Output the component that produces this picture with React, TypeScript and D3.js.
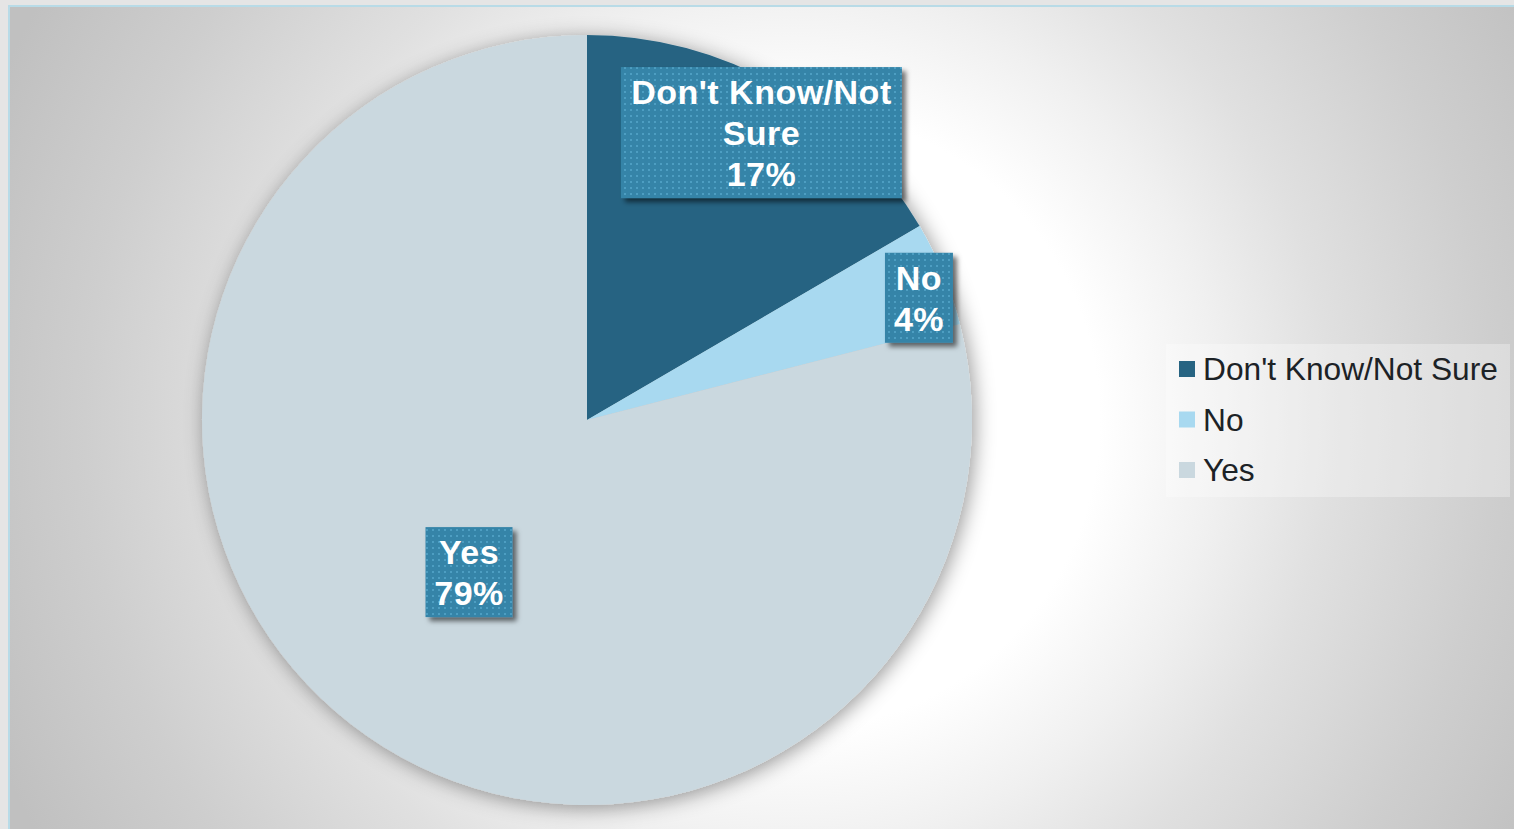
import React from "react";
import * as d3 from "d3";

const categories = ["Don't Know/Not Sure", "No", "Yes"];
const values = [16.6, 4.4, 79.0];
const percentLabels = ["17%", "4%", "79%"];
const labelLines = [["Don't Know/Not", "Sure"], ["No"], ["Yes"]];
const colors = ["#276482", "#a8d9f0", "#cad8df"];

// layout constants
const W = 1514;
const H = 829;
const CX = 587;
const CY = 420;
const R = 385;
const labelRadius = [0.873, 0.918, 0.5];
const labelNudge = [[7, 4], [5, 12], [0, 0]];
const boxWidths = [281, 68, 87];
const LINE_H = 41;
const FONT = "'Liberation Sans', Arial, Helvetica, sans-serif";

export default function App() {
  const pie = d3.pie<number>().sort(null).value((d) => d).startAngle(0).endAngle(2 * Math.PI);
  const arcs = pie(values);
  const arc = d3.arc<d3.PieArcDatum<number>>().innerRadius(0).outerRadius(R);

  return (
    <svg width={W} height={H} style={{ position: "absolute", left: 0, top: 0, display: "block" }}>
      <defs>
        <radialGradient id="bg" gradientUnits="userSpaceOnUse" cx={790} cy={420} r={860}>
          <stop offset="0" stopColor="#ffffff" />
          <stop offset="0.36" stopColor="#ffffff" />
          <stop offset="0.5" stopColor="#f0f0f0" />
          <stop offset="0.63" stopColor="#e0e0e0" />
          <stop offset="0.82" stopColor="#cecece" />
          <stop offset="1" stopColor="#c0c0c0" />
        </radialGradient>
        <pattern id="dots" width={6} height={6} patternUnits="userSpaceOnUse">
          <rect width={6} height={6} fill="#3584a8" />
          <rect x={1} y={1} width={2} height={2} fill="#4d9ec2" />
        </pattern>
        <filter id="pieShadow" x="-10%" y="-10%" width="125%" height="125%">
          <feDropShadow dx={3} dy={3} stdDeviation={10} floodColor="#000" floodOpacity={0.4} />
        </filter>
        <filter id="boxShadow" x="-20%" y="-20%" width="150%" height="150%">
          <feDropShadow dx={4} dy={4} stdDeviation={2.5} floodColor="#000" floodOpacity={0.55} />
        </filter>
      </defs>
      <rect x={0} y={0} width={W} height={H} fill="#e5e5e5" />
      <rect x={9} y={6} width={W + 20} height={H + 20} fill="url(#bg)" stroke="#b8dbe7" strokeWidth={2} />

      <g transform={`translate(${CX},${CY})`}>
        <g filter="url(#pieShadow)">
          {arcs.map((a, i) => (
            <path key={i} d={arc(a) || ""} fill={colors[i]} />
          ))}
        </g>
        {arcs.map((a, i) => {
          const lr = R * labelRadius[i];
          const c = d3.arc<d3.PieArcDatum<number>>().innerRadius(lr).outerRadius(lr).centroid(a);
          const lines = [...labelLines[i], percentLabels[i]];
          const bw = boxWidths[i];
          const bh = lines.length * LINE_H + 8;
          const x = c[0] + labelNudge[i][0];
          const y = c[1] + labelNudge[i][1];
          const top = y - bh / 2;
          return (
            <g key={"l" + i}>
              <rect x={x - bw / 2} y={top} width={bw} height={bh} fill="url(#dots)" filter="url(#boxShadow)" />
              {lines.map((t, j) => (
                <text
                  key={j}
                  x={x}
                  y={top + 37 + j * LINE_H}
                  textAnchor="middle"
                  fill="#ffffff"
                  fontFamily={FONT}
                  fontWeight="bold"
                  fontSize={34}
                  letterSpacing={0.5}
                >
                  {t}
                </text>
              ))}
            </g>
          );
        })}
      </g>

      <g>
        <rect x={1166} y={344} width={344} height={153} fill="#ffffff" opacity={0.3} />
        {categories.map((c, i) => (
          <g key={c} transform={`translate(1179, ${361 + i * 50.5})`}>
            <rect x={0} y={0} width={16} height={16} fill={colors[i]} />
            <text x={24} y={19} fill="#1c2226" fontFamily={FONT} fontSize={31.7}>
              {c}
            </text>
          </g>
        ))}
      </g>
    </svg>
  );
}
